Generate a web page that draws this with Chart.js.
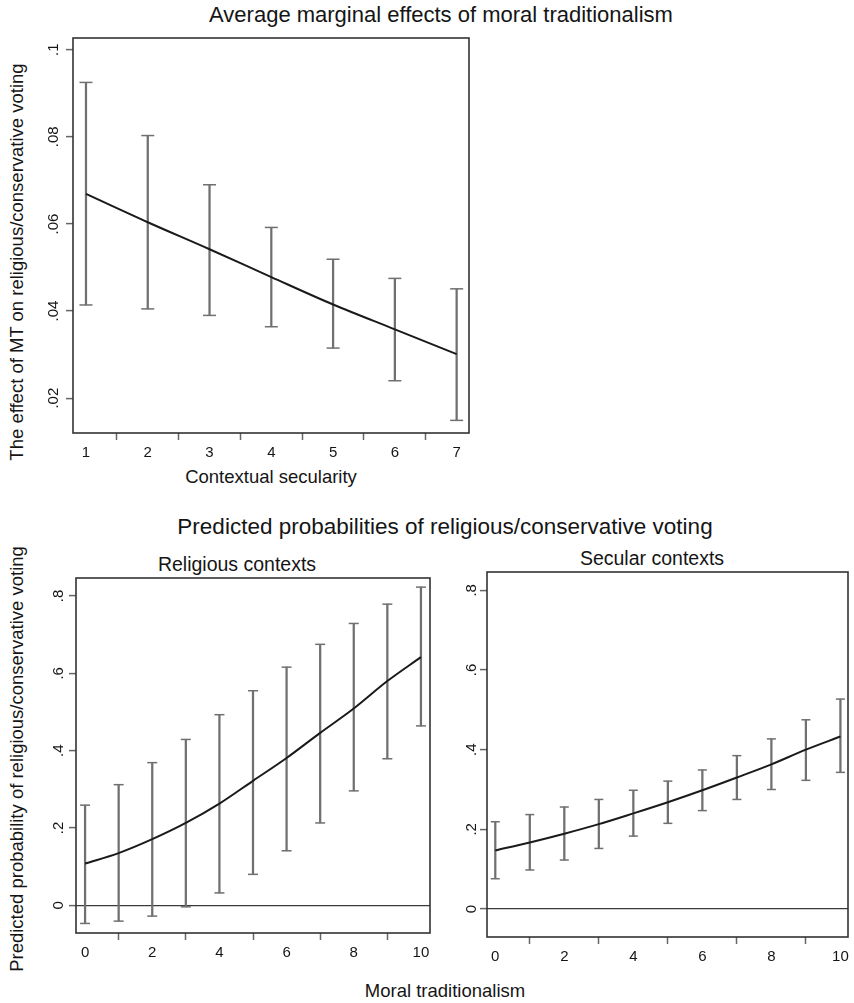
<!DOCTYPE html>
<html>
<head>
<meta charset="utf-8">
<script src="https://cdn.jsdelivr.net/npm/chart.js@4.4.1/dist/chart.umd.min.js"></script>
<style>
  body { margin: 0; background: #fff; width: 854px; height: 1003px; position: relative; overflow: hidden;
         font-family: "Liberation Sans", Arial, sans-serif; color: #151515; }
  .panel { position: absolute; }
  .txt { position: absolute; white-space: nowrap; line-height: 1; transform: translate(-50%, -50%); }
  .rot { transform: translate(-50%, -50%) rotate(-90deg); }
</style>
</head>
<body>
<div class="txt" style="left:441px;top:15px;font-size:22px">Average marginal effects of moral traditionalism</div>
<div class="txt rot" style="left:17px;top:262px;font-size:18.5px">The effect of MT on religious/conservative voting</div>
<div class="txt" style="left:271px;top:477px;font-size:18.5px">Contextual secularity</div>

<div class="txt" style="left:445px;top:527px;font-size:22.5px">Predicted probabilities of religious/conservative voting</div>
<div class="txt" style="left:237px;top:565px;font-size:19.5px">Religious contexts</div>
<div class="txt" style="left:652px;top:559px;font-size:19.5px">Secular contexts</div>
<div class="txt rot" style="left:17px;top:759px;font-size:18.5px">Predicted probability of religious/conservative voting</div>
<div class="txt" style="left:445px;top:991px;font-size:18.5px">Moral traditionalism</div>

<div class="panel" style="left:30px;top:30px"><canvas id="effectChart" width="450" height="440"></canvas></div>
<div class="panel" style="left:30px;top:560px"><canvas id="religiousChart" width="420" height="420"></canvas></div>
<div class="panel" style="left:450px;top:555px"><canvas id="secularChart" width="404" height="425"></canvas></div>

<script>
// top panel: average marginal effect of MT by contextual secularity
const secularity = [1, 2, 3, 4, 5, 6, 7];
const mtEffect = [0.0669, 0.0604, 0.0542, 0.0478, 0.0415, 0.0358, 0.0301];
const mtEffectLow = [0.0414, 0.0405, 0.039, 0.0364, 0.0315, 0.024, 0.0149];
const mtEffectHigh = [0.0925, 0.0803, 0.069, 0.0592, 0.0519, 0.0475, 0.0451];
const effectTicksX = [1, 2, 3, 4, 5, 6, 7];
const effectTicksY = [0.02, 0.04, 0.06, 0.08, 0.1];
const effectLabelsY = [".02", ".04", ".06", ".08", ".1"];

// bottom panels: predicted probabilities by moral traditionalism
const moralTrad = [0, 1, 2, 3, 4, 5, 6, 7, 8, 9, 10];
const religiousProb = [0.108, 0.135, 0.171, 0.213, 0.263, 0.322, 0.381, 0.446, 0.509, 0.58, 0.642];
const religiousLow = [-0.047, -0.041, -0.028, -0.004, 0.032, 0.08, 0.141, 0.213, 0.296, 0.379, 0.464];
const religiousHigh = [0.259, 0.312, 0.369, 0.429, 0.493, 0.555, 0.616, 0.675, 0.729, 0.779, 0.823];
const secularProb = [0.147, 0.167, 0.189, 0.213, 0.24, 0.268, 0.298, 0.33, 0.363, 0.4, 0.433];
const secularLow = [0.076, 0.098, 0.123, 0.152, 0.183, 0.215, 0.247, 0.275, 0.3, 0.323, 0.343];
const secularHigh = [0.219, 0.237, 0.256, 0.275, 0.298, 0.321, 0.349, 0.385, 0.427, 0.475, 0.527];
const probTicksX = [0, 2, 4, 6, 8, 10];
const probTicksY = [0, 0.2, 0.4, 0.6, 0.8];
const probLabelsY = ["0", ".2", ".4", ".6", ".8"];

const FONT = '"Liberation Sans", Arial, sans-serif';
Chart.defaults.font.family = FONT;

const stataFrame = {
  id: "stataFrame",
  beforeDatasetsDraw(chart) {
    const { ctx, chartArea: a } = chart;
    ctx.save();
    ctx.strokeStyle = "#333";
    ctx.lineWidth = 1.6;
    ctx.strokeRect(a.left, a.top, a.right - a.left, a.bottom - a.top);
    ctx.restore();
  },
  afterDraw(chart, args, opts) {
    const { ctx, chartArea: a } = chart;
    const s = chart.scales.y;
    ctx.save();
    ctx.fillStyle = "#151515";
    ctx.font = "15px " + FONT;
    ctx.textAlign = "center";
    ctx.textBaseline = "middle";
    s.ticks.forEach((t, i) => {
      ctx.save();
      ctx.translate(a.left - opts.offset, s.getPixelForValue(t.value));
      ctx.rotate(-Math.PI / 2);
      ctx.fillText(opts.labels[i], 0, 0);
      ctx.restore();
    });
    ctx.restore();
  },
};

const makeChart = (id, c) => {
  const pts = (ys) => c.x.map((x, i) => ({ x, y: ys[i] }));
  const capSet = (ys) => ({
    type: "scatter",
    data: pts(ys),
    pointStyle: "line",
    pointRadius: c.cap,
    pointHoverRadius: c.cap,
    pointBorderWidth: 1.5,
    pointBorderColor: "#707070",
  });
  return new Chart(document.getElementById(id), {
    type: "scatter",
    data: {
      datasets: [
        {
          type: "line",
          data: pts(c.fit),
          borderColor: "#1a1a1a",
          borderWidth: 2,
          pointRadius: 0,
          cubicInterpolationMode: "monotone",
          fill: false,
        },
        {
          type: "bar",
          data: c.x.map((x, i) => ({ x, y: [c.low[i], c.high[i]] })),
          backgroundColor: "#707070",
          borderWidth: 0,
          barThickness: 1.6,
          grouped: false,
        },
        capSet(c.high),
        capSet(c.low),
      ],
    },
    options: {
      responsive: false,
      animation: false,
      layout: { padding: { top: c.pad.top, right: c.pad.right, left: 0, bottom: 0 } },
      plugins: {
        legend: { display: false },
        tooltip: { enabled: false },
        stataFrame: { offset: c.labelOffset, labels: c.yLabels },
      },
      scales: {
        x: {
          type: "linear",
          min: c.xMin,
          max: c.xMax,
          offset: false,
          afterBuildTicks: (s) => { s.ticks = c.xTicks.map((v) => ({ value: v })); },
          afterFit: (s) => { s.height = c.xHeight; },
          grid: { drawOnChartArea: false, tickLength: 7, tickColor: "#666", tickWidth: 1.5 },
          border: { display: false },
          ticks: { color: "#151515", font: { size: 15 }, padding: 4, maxRotation: 0, autoSkip: false,
                   callback: (v) => String(v) },
        },
        y: {
          type: "linear",
          min: c.yMin,
          max: c.yMax,
          afterBuildTicks: (s) => { s.ticks = c.yTicks.map((v) => ({ value: v })); },
          afterFit: (s) => { s.width = c.yWidth; },
          grid: {
            drawOnChartArea: c.zeroLine,
            color: (ctx) => (ctx.tick && ctx.tick.value === 0 ? "#3a3a3a" : "rgba(0,0,0,0)"),
            lineWidth: 1.2,
            tickLength: 7,
            tickColor: "#666",
            tickWidth: 1.5,
          },
          border: { display: false },
          ticks: { display: false },
        },
      },
    },
    plugins: [stataFrame],
  });
};

makeChart("effectChart", {
  x: secularity, fit: mtEffect, low: mtEffectLow, high: mtEffectHigh,
  xTicks: effectTicksX, yTicks: effectTicksY, yLabels: effectLabelsY,
  xMin: 0.79, xMax: 7.2, yMin: 0.012, yMax: 0.1027,
  pad: { top: 7, right: 11 }, yWidth: 43, xHeight: 37,
  cap: 6.5, labelOffset: 19, zeroLine: false,
});

makeChart("religiousChart", {
  x: moralTrad, fit: religiousProb, low: religiousLow, high: religiousHigh,
  xTicks: probTicksX, yTicks: probTicksY, yLabels: probLabelsY,
  xMin: -0.27, xMax: 10.27, yMin: -0.0717, yMax: 0.8466,
  pad: { top: 18, right: 20 }, yWidth: 46, xHeight: 47,
  cap: 5, labelOffset: 17, zeroLine: true,
});

makeChart("secularChart", {
  x: moralTrad, fit: secularProb, low: secularLow, high: secularHigh,
  xTicks: probTicksX, yTicks: probTicksY, yLabels: probLabelsY,
  xMin: -0.24, xMax: 10.22, yMin: -0.0703, yMax: 0.846,
  pad: { top: 17, right: 5 }, yWidth: 37, xHeight: 43,
  cap: 4.5, labelOffset: 15, zeroLine: true,
});
</script>
</body>
</html>
